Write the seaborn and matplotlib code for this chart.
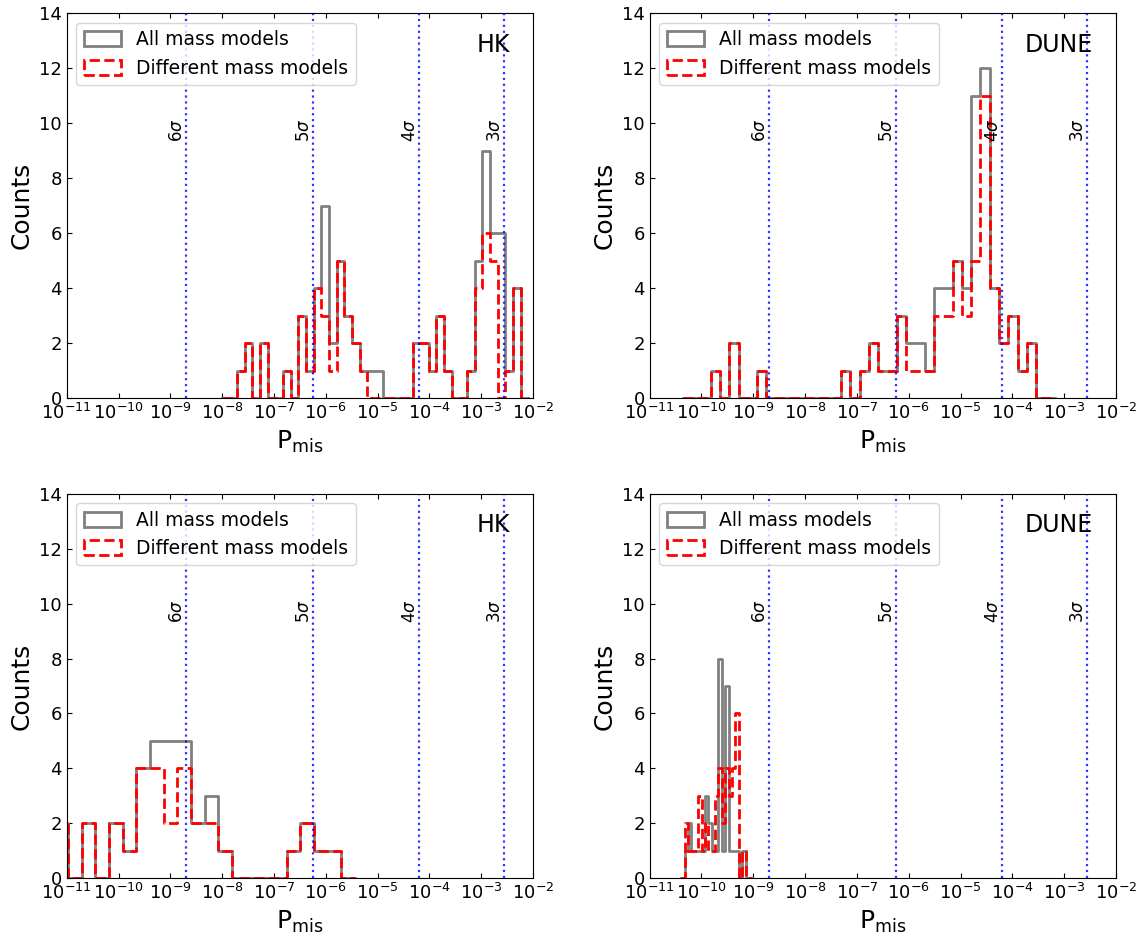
import numpy as np
import pandas as pd
import matplotlib
matplotlib.use("Agg")
import matplotlib.pyplot as plt
import matplotlib.ticker as mticker
from matplotlib.patches import Patch
import seaborn as sns

# Reference significance levels (two-sided p-values)
sigma_labels = ['6$\\sigma$', '5$\\sigma$', '4$\\sigma$', '3$\\sigma$']
sigma_pvalues = [1.97e-9, 5.73e-7, 6.33e-5, 2.70e-3]

# Histogram bins are uniform in log10(P_mis): first edge and width (decades)
# HK, upper panel
hk_top_start, hk_top_width = -8.01, 0.148
hk_top_all = [0, 0, 1, 2, 0, 2, 0, 0, 1, 0, 3, 1, 4, 7, 2, 5, 3, 2, 1, 1,
              1, 0, 0, 0, 0, 2, 2, 1, 3, 1, 0, 0, 1, 5, 9, 6, 6, 1, 4, 0]
hk_top_diff = [0, 0, 1, 2, 0, 2, 0, 0, 1, 0, 3, 1, 4, 3, 1, 5, 3, 2, 1, 0,
               0, 0, 0, 0, 0, 2, 2, 1, 3, 1, 0, 0, 1, 4, 6, 5, 0, 1, 4, 0]

# DUNE, upper panel
dune_top_start, dune_top_width = -10.36, 0.1795
dune_top_all = [0, 0, 0, 1, 0, 2, 0, 0, 1, 0, 0, 0, 0, 0, 0, 0, 0, 1, 0, 1,
                2, 1, 1, 3, 2, 2, 1, 4, 4, 5, 4, 11, 12, 4, 2, 3, 1, 2, 0, 0]
dune_top_diff = [0, 0, 0, 1, 0, 2, 0, 0, 1, 0, 0, 0, 0, 0, 0, 0, 0, 1, 0, 1,
                 2, 1, 1, 3, 1, 1, 1, 3, 3, 5, 3, 5, 11, 4, 2, 3, 1, 2, 0, 0]

# HK, lower panel
hk_bot_start, hk_bot_width = -11.238, 0.2637
hk_bot_all = [2, 0, 2, 0, 2, 1, 4, 5, 5, 5, 2, 3, 1, 0, 0, 0, 0, 1, 2, 1, 1, 0]
hk_bot_diff = [2, 0, 2, 0, 2, 1, 4, 4, 2, 4, 2, 2, 1, 0, 0, 0, 0, 1, 2, 1, 1, 0]

# DUNE, lower panel
dune_bot_start, dune_bot_width = -10.3915, 0.0655
dune_bot_all = [0, 1, 2, 1, 1, 1, 1, 3, 2, 1, 1, 8, 1, 7, 1, 1, 1, 0, 1, 0, 0]
dune_bot_diff = [0, 2, 1, 1, 1, 3, 1, 2, 1, 1, 3, 4, 2, 4, 3, 4, 6, 0, 1, 0, 0]


def draw_panel(ax, start, width, counts_all, counts_diff, experiment):
    """
    Step histograms of the mis-identification probability for one experiment.
    """
    edges = start + width * np.arange(len(counts_all) + 1)
    df = pd.DataFrame({
        'P': 10 ** (edges[:-1] + width / 2),
        'all': counts_all,
        'diff': counts_diff,
    })
    # with log_scale=True seaborn expects the bin edges in log10 units
    bins = edges.tolist()
    sns.histplot(data=df, x='P', weights='all', bins=bins, log_scale=True,
                 element='step', fill=False, color='gray', linewidth=2, ax=ax)
    sns.histplot(data=df, x='P', weights='diff', bins=bins, log_scale=True,
                 element='step', fill=False, color='red', linewidth=2,
                 linestyle='--', ax=ax)

    # significance lines
    for lab, p in zip(sigma_labels, sigma_pvalues):
        ax.axvline(p, color='blue', linestyle=':', linewidth=1.6, alpha=0.8)
        ax.text(p, 9.3, lab, rotation=90, ha='right', va='bottom', fontsize=12)

    ax.set_xlim(1e-11, 1e-2)
    ax.set_ylim(0, 14)
    ax.set_yticks(np.arange(0, 15, 2))
    ax.xaxis.set_major_locator(mticker.LogLocator(base=10, numticks=15))
    ax.xaxis.set_minor_locator(mticker.NullLocator())
    ax.tick_params(direction='in', top=True, right=False, labelsize=13)
    ax.set_xlabel(r'$\mathrm{P_{mis}}$', fontsize=18)
    ax.set_ylabel('Counts', fontsize=18)

    handles = [
        Patch(facecolor='none', edgecolor='gray', linewidth=2, label='All mass models'),
        Patch(facecolor='none', edgecolor='red', linewidth=2, linestyle='--',
              label='Different mass models'),
    ]
    ax.legend(handles=handles, loc='upper left', fontsize=13.5, handleheight=0.85)
    ax.text(0.95, 0.95, experiment, transform=ax.transAxes, ha='right', va='top',
            fontsize=17)


def main():
    fig, axes = plt.subplots(2, 2, figsize=(11.48, 9.33), dpi=100)
    fig.subplots_adjust(left=0.0581, right=0.9721, bottom=0.0586, top=0.9857,
                        wspace=0.25, hspace=0.2486)

    draw_panel(axes[0, 0], hk_top_start, hk_top_width, hk_top_all, hk_top_diff, 'HK')
    draw_panel(axes[0, 1], dune_top_start, dune_top_width, dune_top_all, dune_top_diff, 'DUNE')
    draw_panel(axes[1, 0], hk_bot_start, hk_bot_width, hk_bot_all, hk_bot_diff, 'HK')
    draw_panel(axes[1, 1], dune_bot_start, dune_bot_width, dune_bot_all, dune_bot_diff, 'DUNE')

    fig.savefig('out.png', dpi=100)


if __name__ == "__main__":
    main()
